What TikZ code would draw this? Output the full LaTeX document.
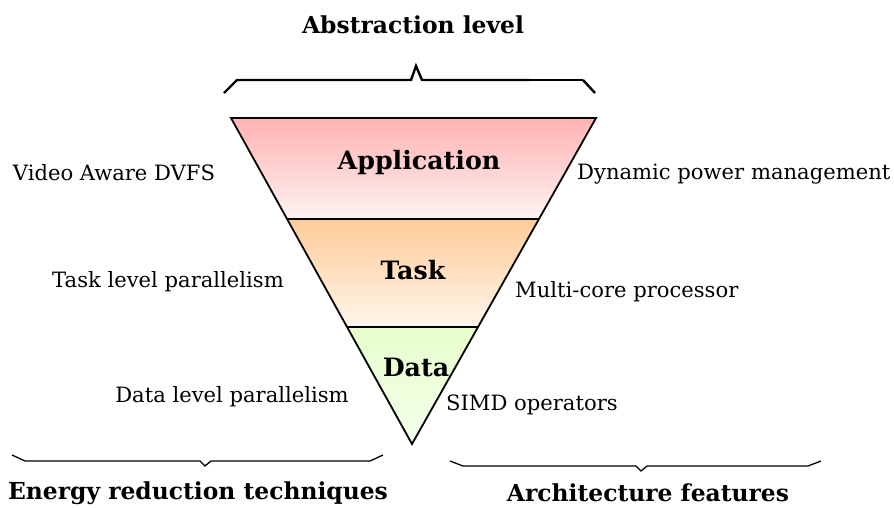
\documentclass[tikz,border=0pt]{standalone}
\usepackage{fontspec}
\setmainfont{DejaVu Serif}
\begin{document}
\begin{tikzpicture}[x=1pt,y=-1pt,
  lbl/.style={font=\fontsize{21.1}{24}\selectfont, inner sep=0pt},
  layer/.style={font=\bfseries\fontsize{25.3}{28}\selectfont, inner sep=0pt},
  head/.style={font=\bfseries\fontsize{23.4}{26}\selectfont, inner sep=0pt},
  edge/.style={line width=1.8pt, line join=miter},
  brace/.style={line width=1.3pt}]
\useasboundingbox (0,0) rectangle (894,507);
% layers
\shade[top color=red!30, bottom color=red!5] (231,118) -- (596,118) -- (539,219) -- (287,219) -- cycle;
\shade[top color=orange!40, bottom color=orange!8] (287,219) -- (539,219) -- (478,327) -- (347,327) -- cycle;
\shade[top color=green!50!yellow!20, bottom color=green!50!yellow!8] (347,327) -- (478,327) -- (412,444) -- cycle;
\draw[edge] (231,118) -- (596,118) -- (412,444) -- cycle;
\draw[line width=1.5pt] (287,219) -- (539,219);
\draw[line width=1.5pt] (347,327) -- (478,327);
% layer titles
\node[layer] (app) at (419,163) {Application};
\node[layer] (task) at (413,270) {Task};
\node[layer] (data) at (416,367) {Data};
% side labels
\node[lbl] (vad) at (114,173) {Video Aware DVFS};
\node[lbl, anchor=west] (dpm) at (577,174) {Dynamic power management};
\node[lbl] (tlp) at (168,282) {Task level parallelism};
\node[lbl, anchor=west] (mcp) at (515,292) {Multi-core processor};
\node[lbl] (dlp) at (232,397) {Data level parallelism};
\node[lbl, anchor=west] (simd) at (446,405) {SIMD operators};
% headings
\node[head] (abs) at (413,25) {Abstraction level};
\node[head] (ert) at (198,493) {Energy reduction techniques};
\node[head] (arch) at (648,493) {Architecture features};
% braces
\draw[line width=2.4pt, line join=miter] (224,93) -- (237,80) -- (411,80) -- (416,66) -- (422,80) -- (530,80);
\draw[line width=1.3pt] (530,80) -- (583,80);
\draw[line width=2.4pt] (583,80) -- (595,93);
\draw[brace] (12,455) -- (25,461) -- (200,461) -- (205,466) -- (211,461) -- (370,461) -- (383,455);
\draw[brace] (450,461) -- (463,466) -- (636,466) -- (641,471) -- (647,466) -- (808,466) -- (821,461);
\end{tikzpicture}
\end{document}
